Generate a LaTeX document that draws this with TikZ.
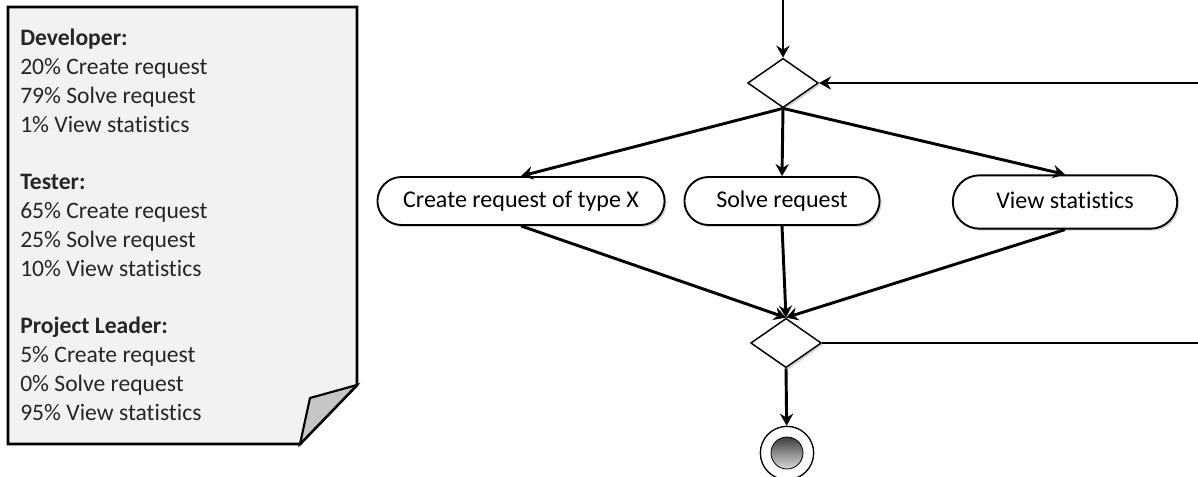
\documentclass[tikz,border=0pt]{standalone}
\usepackage{fontspec}
\setmainfont{Carlito}[Ligatures=NoCommon]
\usetikzlibrary{shapes.geometric,shapes.misc,arrows.meta,shadows}

\begin{document}
\begin{tikzpicture}[x=0.75pt,y=-0.75pt,
        flow/.style={line width=2.2pt,-{Stealth[length=9pt,width=10pt,inset=3pt]}},
        activity/.style={rounded rectangle, draw, line width=1.4pt, fill=white,
            minimum height=36pt, font=\fontsize{18}{20}\selectfont,
            text depth=2pt, drop shadow={shadow xshift=1.5pt,shadow yshift=-1.5pt,opacity=0.35}},
        choice/.style={diamond, draw, line width=1.1pt, fill=white,
            minimum width=53pt, minimum height=37pt, inner sep=0pt,
            drop shadow={shadow xshift=1.5pt,shadow yshift=-1.5pt,opacity=0.35}}]
        \useasboundingbox (0,0) rectangle (1198,477);

        % note with the usage figures
        \draw[line width=2.2pt, fill=gray!10, line join=miter] (8,7) -- (357,7) -- (357,385) -- (300,444) -- (8,444) -- cycle;
        \draw[line width=1.6pt, fill=gray!45, line join=miter] (357,385) -- (310,398) -- (300,444) -- cycle;
        \node[anchor=north west, align=left, inner sep=0pt, text=black!85,
            font=\fontsize{17.7}{21.6}\selectfont] (stats) at (20,29)
            {\textbf{Developer:}\\20\% Create request\\79\% Solve request\\1\% View statistics\\[21.6pt]
             \textbf{Tester:}\\65\% Create request\\25\% Solve request\\10\% View statistics\\[21.6pt]
             \textbf{Project Leader:}\\5\% Create request\\0\% Solve request\\95\% View statistics};

        \coordinate (start) at (783,0);
        \coordinate (loopin) at (1198,83);
        \coordinate (loopout) at (1198,343);

        \node[choice] (split) at (783,83) {};
        \node[activity, minimum width=222pt] (create) at (521,201) {Create request of type X};
        \node[activity, minimum width=153pt] (solve) at (782,201) {Solve request};
        \node[activity, minimum width=175pt, minimum height=40pt] (view) at (1065,202) {View statistics};
        \node[choice] (merge) at (786,343) {};
        \node[circle, draw, line width=1pt, fill=white, minimum size=40pt] (final) at (787,453) {};
        \node[circle, draw, line width=0.6pt, top color=black!75, bottom color=black!15, minimum size=24pt] (finaldot) at (final) {};

        \draw[flow] (start) -- (split);
        \draw[flow] (split.south) -- (create.north);
        \draw[flow] (split.south) -- (solve.north);
        \draw[flow] (split.south) -- (view.north);
        \draw[flow] (create.south) -- (merge.north);
        \draw[flow] (solve.south) -- (merge.north);
        \draw[flow] (view.south) -- (merge.north);
        \draw[flow] (merge.south) -- (final);
        \draw[line width=2.2pt] (merge.east) -- (loopout);
        \draw[flow] (loopin) -- (split.east);

    \end{tikzpicture}
\end{document}
